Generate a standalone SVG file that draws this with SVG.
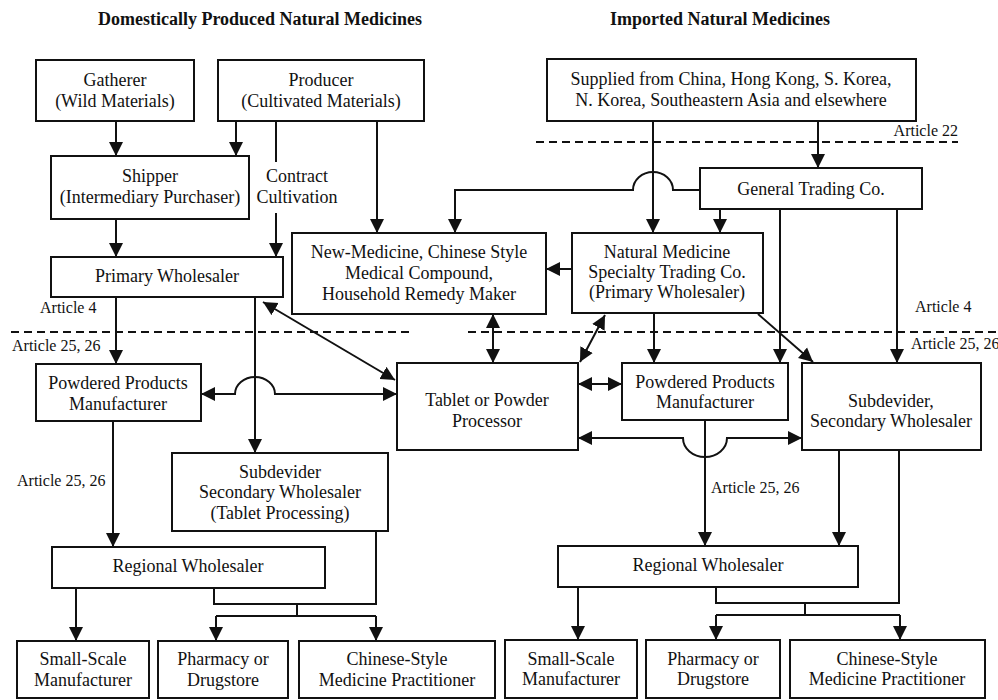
<svg xmlns="http://www.w3.org/2000/svg" width="998" height="700" viewBox="0 0 998 700">
<defs>
<marker id="ah" markerUnits="userSpaceOnUse" markerWidth="15" markerHeight="15" refX="14" refY="7.5" orient="auto-start-reverse" viewBox="0 0 15 15">
<path d="M0,0.5 L14,7.5 L0,14.5 z" fill="#111"/>
</marker>
<style>
rect{fill:#fff;stroke:#111;stroke-width:2}
text{font-family:"Liberation Serif","Times New Roman",serif;font-size:18px;fill:#111;text-anchor:middle}
.t{font-weight:bold;font-size:18px}
.lab{font-size:16px;text-anchor:start}
.labe{font-size:16px;text-anchor:end}
.c path{fill:none;stroke:#111;stroke-width:2}
.a{marker-end:url(#ah)}
.d{marker-start:url(#ah);marker-end:url(#ah)}
.dash{fill:none;stroke:#111;stroke-width:2;stroke-dasharray:8 5}
</style>
</defs>
<rect x="0" y="0" width="998" height="700" style="fill:#fff;stroke:none"/>
<g id="titles">
<text class="t" x="260" y="25">Domestically Produced Natural Medicines</text>
<text class="t" x="720" y="25">Imported Natural Medicines</text>
</g>
<g id="articles">
<path class="dash" d="M11,332 H413"/>
<path class="dash" d="M468,332 H998"/>
<path class="dash" d="M536,142 H958"/>
<text class="lab" x="40" y="313">Article 4</text>
<text class="lab" x="12" y="351">Article 25, 26</text>
<text class="lab" x="17" y="486">Article 25, 26</text>
<text class="labe" x="958" y="136">Article 22</text>
<text class="lab" x="915" y="312">Article 4</text>
<text class="lab" x="911" y="349">Article 25, 26</text>
<text class="lab" x="711" y="493">Article 25, 26</text>
<text x="297" y="182">Contract</text>
<text x="297" y="203">Cultivation</text>
</g>
<g class="c" id="connectors">
<path class="a" d="M116,121 V156"/>
<path class="a" d="M236,121 V156"/>
<path d="M276,121 V162"/>
<path class="a" d="M276,213 V257"/>
<path class="a" d="M377,121 V233"/>
<path class="a" d="M116,219 V257"/>
<path class="a" d="M700,190 H673 A20 18 0 0 0 633,190 H455 V233"/>
<path class="a" d="M653,121 V233"/>
<path class="a" d="M818,121 V168"/>
<path class="a" d="M720,209 V233"/>
<path class="a" d="M780,209 V363"/>
<path class="a" d="M897,209 V363"/>
<path class="a" d="M572,269 H546"/>
<path class="a" d="M116,297 V364"/>
<path class="a" d="M255,297 V453"/>
<path class="d" d="M263,302 L395,380"/>
<path class="d" d="M201,394 H235 A20 17 0 0 1 275,394 H397"/>
<path class="d" d="M493,314 V363"/>
<path class="d" d="M605,315 L580,362"/>
<path class="a" d="M654,313 V363"/>
<path class="a" d="M758,314 L813,362"/>
<path class="d" d="M578,384 H622"/>
<path class="d" d="M578,438 H683 A22 19 0 0 0 727,438 H802"/>
<path class="a" d="M705,420 V546"/>
<path class="a" d="M839,450 V546"/>
<path d="M716,587 V603 H899 V450"/>
<path d="M805,603 V615 M716,615 H900"/>
<path class="a" d="M716,615 V640"/>
<path class="a" d="M900,615 V640"/>
<path class="a" d="M578,587 V640"/>
<path class="a" d="M113,421 V547"/>
<path class="a" d="M76,588 V641"/>
<path d="M214,588 V604 H376 V531"/>
<path d="M297,604 V616 M216,616 H376"/>
<path class="a" d="M216,616 V641"/>
<path class="a" d="M376,616 V641"/>
</g>
<g id="gatherer"><rect x="36" y="60" width="158" height="61"/><text x="115" y="86">Gatherer</text><text x="115" y="107">(Wild Materials)</text></g>
<g id="producer"><rect x="218" y="60" width="206" height="61"/><text x="321" y="86">Producer</text><text x="321" y="107">(Cultivated Materials)</text></g>
<g id="shipper"><rect x="51" y="156" width="198" height="63"/><text x="150" y="182">Shipper</text><text x="150" y="203">(Intermediary Purchaser)</text></g>
<g id="primary-wholesaler"><rect x="51" y="257" width="232" height="40"/><text x="167" y="282">Primary Wholesaler</text></g>
<g id="new-medicine-maker"><rect x="292" y="233" width="254" height="81"/><text x="419" y="258">New-Medicine, Chinese Style</text><text x="419" y="279">Medical Compound,</text><text x="419" y="300">Household Remedy Maker</text></g>
<g id="specialty-trading"><rect x="572" y="233" width="191" height="80"/><text x="667" y="258">Natural Medicine</text><text x="667" y="278">Specialty Trading Co.</text><text x="667" y="298">(Primary Wholesaler)</text></g>
<g id="supplied"><rect x="547" y="59" width="369" height="62"/><text x="731" y="85">Supplied from China, Hong Kong, S. Korea,</text><text x="731" y="106">N. Korea, Southeastern Asia and elsewhere</text></g>
<g id="general-trading"><rect x="700" y="168" width="222" height="41"/><text x="811" y="195">General Trading Co.</text></g>
<g id="powdered-left"><rect x="36" y="364" width="165" height="57"/><text x="118" y="389">Powdered Products</text><text x="118" y="410">Manufacturer</text></g>
<g id="tablet-processor"><rect x="397" y="363" width="181" height="87"/><text x="487" y="406">Tablet or Powder</text><text x="487" y="427">Processor</text></g>
<g id="powdered-right"><rect x="622" y="363" width="166" height="57"/><text x="705" y="388">Powdered Products</text><text x="705" y="408">Manufacturer</text></g>
<g id="subdevider-right"><rect x="802" y="363" width="179" height="87"/><text x="891" y="407">Subdevider,</text><text x="891" y="427">Secondary Wholesaler</text></g>
<g id="subdevider-left"><rect x="172" y="453" width="216" height="78"/><text x="280" y="478">Subdevider</text><text x="280" y="498">Secondary Wholesaler</text><text x="280" y="519">(Tablet Processing)</text></g>
<g id="regional-left"><rect x="52" y="547" width="273" height="41"/><text x="188" y="572">Regional Wholesaler</text></g>
<g id="regional-right"><rect x="558" y="546" width="300" height="41"/><text x="708" y="571">Regional Wholesaler</text></g>
<g id="small-left"><rect x="17" y="641" width="132" height="57"/><text x="83" y="665">Small-Scale</text><text x="83" y="686">Manufacturer</text></g>
<g id="pharmacy-left"><rect x="158" y="641" width="130" height="57"/><text x="223" y="665">Pharmacy or</text><text x="223" y="686">Drugstore</text></g>
<g id="chinese-left"><rect x="299" y="641" width="196" height="57"/><text x="397" y="665">Chinese-Style</text><text x="397" y="686">Medicine Practitioner</text></g>
<g id="small-right"><rect x="505" y="640" width="132" height="58"/><text x="571" y="665">Small-Scale</text><text x="571" y="685">Manufacturer</text></g>
<g id="pharmacy-right"><rect x="646" y="640" width="134" height="58"/><text x="713" y="665">Pharmacy or</text><text x="713" y="685">Drugstore</text></g>
<g id="chinese-right"><rect x="790" y="640" width="195" height="58"/><text x="887" y="665">Chinese-Style</text><text x="887" y="685">Medicine Practitioner</text></g>
</svg>
